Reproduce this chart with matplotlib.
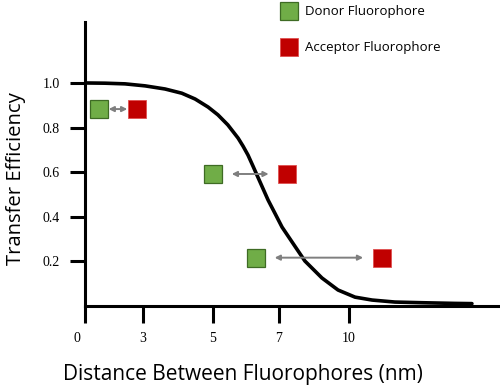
import numpy as np
import matplotlib as mpl
mpl.use('Agg')
from matplotlib import pyplot as plt
from matplotlib.transforms import ScaledTranslation

# curve (distance in nm, transfer efficiency)
curveDist = [0.0, 1.03, 2.07, 3.06, 3.63, 4.11, 4.49, 4.86, 5.15, 5.45, 5.76, 5.91, 6.06,
             6.21, 6.36, 6.67, 6.88, 7.13, 7.69, 8.11, 8.84, 9.53, 10.26, 10.99, 11.97, 13.13, 14.54, 15.27]
curveEff = [1.0, 0.999, 0.996, 0.987, 0.973, 0.954, 0.928, 0.892, 0.857, 0.812, 0.753, 0.717, 0.677,
            0.628, 0.578, 0.475, 0.415, 0.354, 0.267, 0.202, 0.126, 0.072, 0.040, 0.027, 0.018, 0.015, 0.012, 0.011]

# donor / acceptor pairs
donorDist = [0.72, 5.0, 6.30]
acceptorDist = [2.69, 7.36, 11.41]
pairEff = [0.883, 0.592, 0.217]

xTickVals = [0, 3, 5, 7, 10]
xTickLabels = ['0', '3', '5', '7', '10']
yTickVals = [0.2, 0.4, 0.6, 0.8, 1.0]
yTickLabels = ['0.2', '0.4', '0.6', '0.8', '1.0']

# the axis of the original is a sketch, ticks are not evenly spaced
scaleNm = [0, 3, 5, 7, 10, 17]
scalePos = [0, 58, 128, 194, 264, 427.3]

def forward(x):
	return np.interp(x, scaleNm, scalePos)

def inverse(p):
	return np.interp(p, scalePos, scaleNm)

green = '#70AD47'
greenEdge = '#3E6B24'
red = '#C00000'
redEdge = '#E05050'
arrowGrey = '#7F7F7F'

fig = plt.figure(figsize=(5, 3.85), dpi=100)
ax = fig.add_axes([0.17, 0.205, 0.83, 0.738])
ax.set_xscale('function', functions=(forward, inverse))

ax.plot(curveDist, curveEff, color='black', lw=2.6, solid_capstyle='round',
	solid_joinstyle='round', zorder=2)

shrinks = [7, 13.5, 13.5]
for i in range(len(pairEff)):
	ax.annotate('', xy=(acceptorDist[i], pairEff[i]), xytext=(donorDist[i], pairEff[i]),
		arrowprops=dict(arrowstyle='<|-|>', color=arrowGrey, lw=1.4, mutation_scale=7.5,
		shrinkA=shrinks[i], shrinkB=shrinks[i]), zorder=3)

ax.plot(donorDist, pairEff, 's', ms=13.5, mfc=green, mec=greenEdge, mew=0.9,
	ls='none', zorder=4, label='Donor Fluorophore')
ax.plot(acceptorDist, pairEff, 's', ms=13.5, mfc=red, mec=redEdge, mew=0.6,
	ls='none', zorder=4, label='Acceptor Fluorophore')

ax.set_xlim(0, inverse(415))
ax.set_ylim(0, 1.2735)

for s in ['top', 'right']:
	ax.spines[s].set_visible(False)
for s in ['left', 'bottom']:
	ax.spines[s].set_linewidth(2.2)

ax.set_xticks(xTickVals)
ax.set_xticklabels(xTickLabels, family='Liberation Serif', fontsize=10)
ax.set_yticks(yTickVals)
ax.set_yticklabels(yTickLabels, family='Liberation Serif', fontsize=10)
ax.xaxis.set_minor_locator(mpl.ticker.NullLocator())
ax.tick_params(axis='x', length=12.5, width=2.2, pad=6)
ax.tick_params(axis='y', length=11, width=2.2, pad=7)

lbl0 = ax.get_xticklabels()[0]
lbl0.set_transform(lbl0.get_transform() + ScaledTranslation(-8 / 100, 0, fig.dpi_scale_trans))

ax.set_xlabel('Distance Between Fluorophores (nm)', family='Open Sans', fontsize=15,
	labelpad=14, x=0.381)
ax.set_ylabel('Transfer Efficiency', family='Open Sans', fontsize=14.6, labelpad=12, y=0.447)

leg = ax.legend(loc='upper left', bbox_to_anchor=(280 / 500, 381 / 385), bbox_transform=fig.transFigure,
	frameon=False, handlelength=1.2, handletextpad=0.6, labelspacing=1.75,
	borderpad=0.1, borderaxespad=0, prop={'family': 'Open Sans', 'size': 9.5})

fig.savefig('out.png', dpi=100)
